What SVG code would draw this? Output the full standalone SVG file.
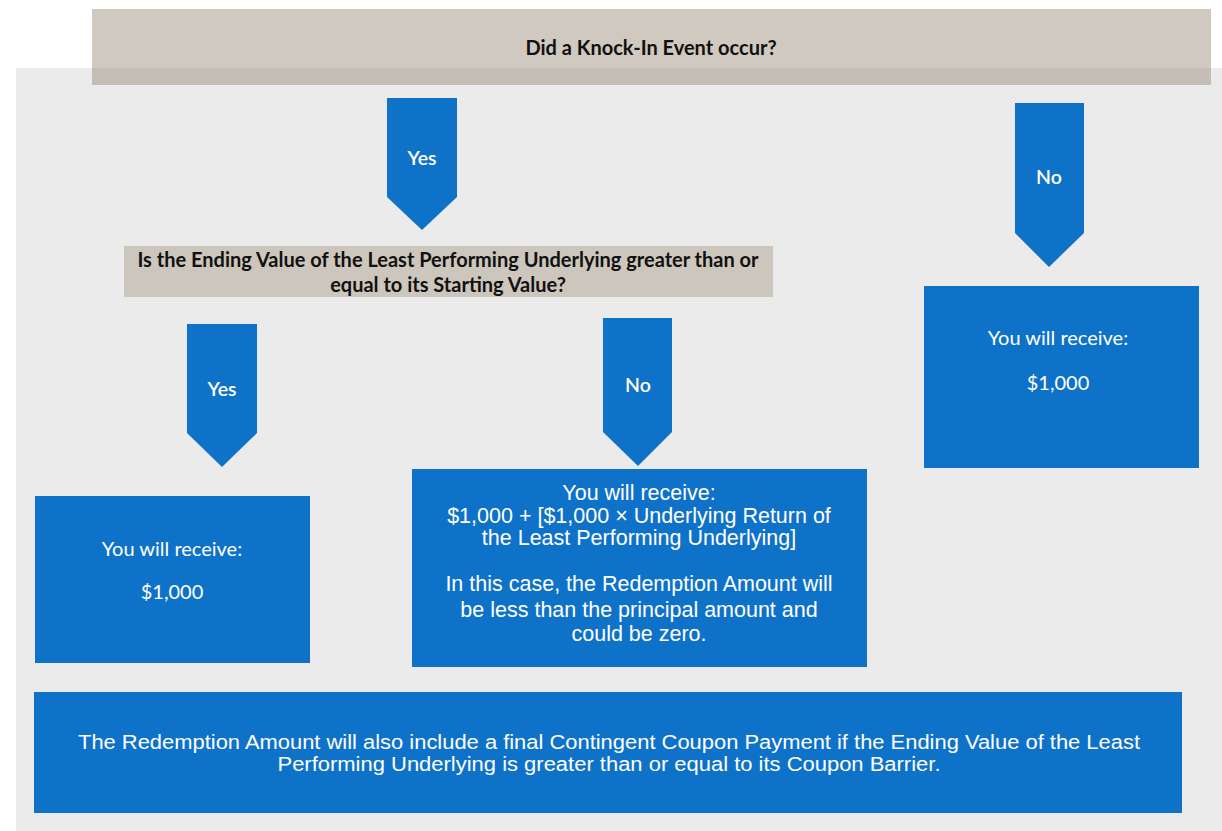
<svg xmlns="http://www.w3.org/2000/svg" width="1222" height="831" viewBox="0 0 1222 831">
<style>
.blue{fill:#0f72c9}
.beige{fill:#cdc6bc}
.cal{font-family:Lato,"Open Sans","Liberation Sans",sans-serif;fill:#ffffff;text-anchor:middle;font-size:20px}
.calb{font-family:Lato,"Open Sans","Liberation Sans",sans-serif;font-weight:bold;fill:#111111;text-anchor:middle;font-size:20px}
.ari{font-family:"Liberation Sans",Arial,sans-serif;fill:#ffffff;text-anchor:middle}
.lbl{font-family:Lato,"Open Sans","Liberation Sans",sans-serif;fill:#ffffff;text-anchor:middle;font-size:19.5px;font-weight:600}
</style>
<rect x="0" y="0" width="1222" height="831" fill="#ffffff"/>
<rect x="16" y="68" width="1206" height="763" fill="#ebebeb"/>
<g id="q1">
<rect x="92" y="9" width="1119" height="76" fill="#d0c9bf"/>
<rect x="92" y="68" width="1119" height="17" fill="#c5beb5"/>
<text x="651" y="55" class="calb">Did a Knock-In Event occur?</text>
</g>
<g id="q2">
<rect x="124" y="246" width="649" height="51" class="beige"/>
<text x="448" y="267" class="calb" font-size="20.3">Is the Ending Value of the Least Performing Underlying greater than or</text>
<text x="448" y="292" class="calb" font-size="20.3">equal to its Starting Value?</text>
</g>
<g id="connectors">
<g id="yes1">
<polygon class="blue" points="387,98 457,98 457,197 422,230 387,197"/>
<text x="422" y="165" class="lbl">Yes</text>
</g>
<g id="no1">
<polygon class="blue" points="1015,103 1084,103 1084,233 1049,267 1015,233"/>
<text x="1049" y="184" class="lbl">No</text>
</g>
<g id="yes2">
<polygon class="blue" points="187,324 257,324 257,433 222,467 187,433"/>
<text x="222" y="396" class="lbl">Yes</text>
</g>
<g id="no2">
<polygon class="blue" points="603,318 672,318 672,432 638,466 603,432"/>
<text x="638" y="392" class="lbl">No</text>
</g>
</g>
<g id="result-no">
<rect x="924" y="286" width="275" height="182" class="blue"/>
<text x="1058" y="345" class="cal">You will receive:</text>
<text x="1058" y="390" class="cal">$1,000</text>
</g>
<g id="result-yes">
<rect x="35" y="496" width="275" height="167" class="blue"/>
<text x="172" y="556" class="cal">You will receive:</text>
<text x="172" y="599" class="cal">$1,000</text>
</g>
<g id="result-loss">
<rect x="412" y="469" width="455" height="198" class="blue"/>
<text x="639" y="500" class="ari" font-size="21.5">You will receive:</text>
<text x="639" y="523" class="ari" font-size="21.5">$1,000 + [$1,000 × Underlying Return of</text>
<text x="639" y="545" class="ari" font-size="21.5">the Least Performing Underlying]</text>
<text x="639" y="591" class="ari" font-size="21.5">In this case, the Redemption Amount will</text>
<text x="639" y="617" class="ari" font-size="21.5">be less than the principal amount and</text>
<text x="639" y="641" class="ari" font-size="21.5">could be zero.</text>
</g>
<g id="note">
<rect x="34" y="692" width="1148" height="121" class="blue"/>
<text x="609" y="749" class="ari" font-size="19.5" textLength="1062" lengthAdjust="spacingAndGlyphs">The Redemption Amount will also include a final Contingent Coupon Payment if the Ending Value of the Least</text>
<text x="609" y="771" class="ari" font-size="19.5" textLength="663" lengthAdjust="spacingAndGlyphs">Performing Underlying is greater than or equal to its Coupon Barrier.</text>
</g>
</svg>
